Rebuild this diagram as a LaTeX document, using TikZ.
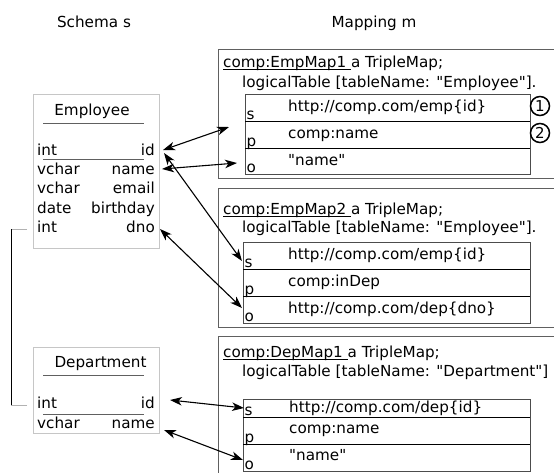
\documentclass[tikz,border=0pt]{standalone}
\usepackage{fontspec}
\setmainfont{DejaVu Sans}[Ligatures=TeXOff]
\usetikzlibrary{arrows.meta}
\newcommand\myul[1]{\setbox0\hbox{#1}\rlap{\rule[-2.4pt]{\wd0}{0.8pt}}\box0}
\begin{document}
\begin{tikzpicture}[x=1pt,y=-1pt,
  txt/.style={inner sep=0pt, font=\fontsize{15.2}{18}\selectfont},
  lbl/.style={txt, anchor=base west},
  rlbl/.style={txt, anchor=base east},
  ctr/.style={txt, anchor=base},
  tbox/.style={draw=gray!45, line width=0.8pt},
  mbox/.style={draw=gray!75!black, line width=0.8pt},
  ibox/.style={draw=gray!60!black, line width=0.8pt},
  sepline/.style={draw=gray!75!black, line width=0.8pt},
  rowline/.style={draw=black, line width=0.9pt},
  link/.style={draw=black, line width=1.1pt, {Stealth[length=12pt,width=8.5pt,inset=3.5pt]}-{Stealth[length=12pt,width=8.5pt,inset=3.5pt]}},
  num/.style={circle, draw=black, line width=1.5pt, minimum size=19pt, inner sep=0pt, font=\fontsize{15}{15}\selectfont}
]
\useasboundingbox (0,0) rectangle (554,472);
\clip (0,0) rectangle (554,472);

% headings
\node[ctr] (schema) at (94,27) {Schema s};
\node[ctr] (mapping) at (374,27) {Mapping m};

% ---------- Employee table ----------
\draw[tbox] (33,94) rectangle (159,248);
\node[ctr] (empT) at (92,115) {Employee};
\draw[sepline] (43,123) -- (144,123);
\node[lbl] (e1l) at (37,155) {int};     \node[rlbl] (e1r) at (155,155) {id};
\draw[sepline] (43,159) -- (144,159);
\node[lbl] (e2l) at (37,174.4) {vchar}; \node[rlbl] (e2r) at (155,174.4) {name};
\node[lbl] (e3l) at (37,193.8) {vchar}; \node[rlbl] (e3r) at (155,193.8) {email};
\node[lbl] (e4l) at (37,213.2) {date};  \node[rlbl] (e4r) at (155,213.2) {birthday};
\node[lbl] (e5l) at (37,232.6) {int};   \node[rlbl] (e5r) at (155,232.6) {dno};

% ---------- Department table ----------
\draw[tbox] (33,347) rectangle (159,433);
\node[ctr] (depT) at (100.5,367.5) {Department};
\draw[sepline] (43,375) -- (144,375);
\node[lbl] (d1l) at (37,408) {int};     \node[rlbl] (d1r) at (155,408) {id};
\draw[sepline] (43,414) -- (144,414);
\node[lbl] (d2l) at (37,428) {vchar};   \node[rlbl] (d2r) at (155,428) {name};

% foreign key bracket
\coordinate (fkA) at (27,229);
\coordinate (fkB) at (27,405);
\draw[gray!60, line width=0.8pt] (fkA) -- (11,229);
\draw[gray!60, line width=0.8pt] (fkB) -- (11,405);
\draw[black, line width=0.8pt] (11,229) -- (11,405);

% ---------- Mapping 1 ----------
\draw[mbox] (218,49) rectangle (565,178);
\node[lbl] (m1a) at (223,67) {\myul{comp:EmpMap1\ }a TripleMap;};
\node[lbl] (m1b) at (242,87) {logicalTable [tableName: "Employee"].};
\draw[ibox] (245,94) rectangle (530,174);
\draw[rowline] (245,121) -- (530,121);
\draw[rowline] (245,148) -- (530,148);
\node[lbl] (m1s) at (288,111) {http://comp.com/emp\{id\}};
\node[lbl] (m1p) at (288,138) {comp:name};
\node[lbl] (m1o) at (288,165) {"name"};
\node[lbl] (m1sl) at (246.5,119) {s};
\node[lbl] (m1pl) at (246.5,146) {p};
\node[lbl] (m1ol) at (246.5,172.5) {o};
\node[num] (c1) at (540,106) {1};
\node[num] (c2) at (540,133) {2};

% ---------- Mapping 2 ----------
\draw[mbox] (218,188) rectangle (565,327);
\node[lbl] (m2a) at (223,214) {\myul{comp:EmpMap2\ }a TripleMap;};
\node[lbl] (m2b) at (242,232) {logicalTable [tableName: "Employee"].};
\draw[ibox] (243,242) rectangle (530,323);
\draw[rowline] (243,269) -- (530,269);
\draw[rowline] (243,296) -- (530,296);
\node[lbl] (m2s) at (288,259) {http://comp.com/emp\{id\}};
\node[lbl] (m2p) at (288,286) {comp:inDep};
\node[lbl] (m2o) at (288,313) {http://comp.com/dep\{dno\}};
\node[lbl] (m2sl) at (244.5,267) {s};
\node[lbl] (m2pl) at (244.5,294) {p};
\node[lbl] (m2ol) at (244.5,321) {o};

% ---------- Mapping 3 ----------
\draw[mbox] (218,336) rectangle (565,490);
\node[lbl] (m3a) at (223,357) {\myul{comp:DepMap1\ }a TripleMap;};
\node[lbl] (m3b) at (242,376) {logicalTable [tableName: "Department"]};
\draw[ibox] (243,399) rectangle (530,471);
\draw[rowline] (243,417) -- (530,417);
\draw[rowline] (243,444) -- (530,444);
\node[lbl] (m3s) at (289,412) {http://comp.com/dep\{id\}};
\node[lbl] (m3p) at (289,433) {comp:name};
\node[lbl] (m3o) at (289,460) {"name"};
\node[lbl] (m3sl) at (244.5,415) {s};
\node[lbl] (m3pl) at (244.5,442) {p};
\node[lbl] (m3ol) at (244.5,469) {o};

% ---------- arrows ----------
\coordinate (eId1) at (163,150);
\coordinate (eId2) at (164,153);
\coordinate (eName) at (162,169);
\coordinate (eDno) at (160,229);
\coordinate (dId) at (170,400);
\coordinate (dName) at (164,430);
\coordinate (t1) at (229,127);
\coordinate (t2) at (237,163);
\coordinate (t3) at (242,261);
\coordinate (t4) at (242,308);
\coordinate (t5) at (244,408);
\coordinate (t6) at (243,460);
\draw[link] (eId1) -- (t1);
\draw[link] (eName) -- (t2);
\draw[link] (eId2) -- (t3);
\draw[link] (eDno) -- (t4);
\draw[link] (dId) -- (t5);
\draw[link] (dName) -- (t6);
\end{tikzpicture}
\end{document}
